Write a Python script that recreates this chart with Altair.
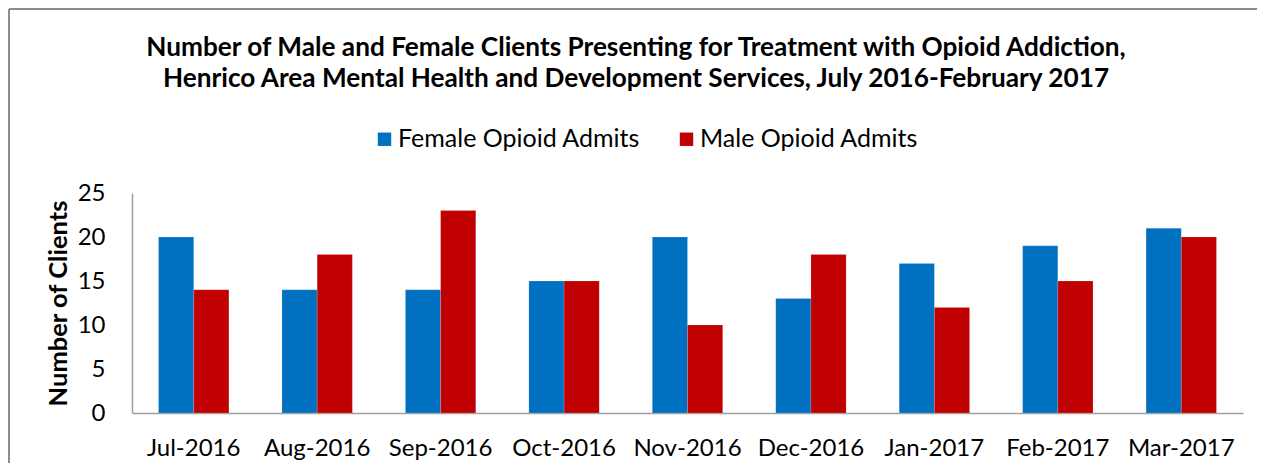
import altair as alt
import pandas as pd

months = ["Jul-2016", "Aug-2016", "Sep-2016", "Oct-2016", "Nov-2016",
          "Dec-2016", "Jan-2017", "Feb-2017", "Mar-2017"]
female = [20, 14, 14, 15, 20, 13, 17, 19, 21]
male = [14, 18, 23, 15, 10, 18, 12, 15, 20]
series = ["Female Opioid Admits", "Male Opioid Admits"]
colors = ["#0070C0", "#C00000"]

rows = []
for i, m in enumerate(months):
    rows.append({"month": m, "series": series[0], "value": female[i]})
    rows.append({"month": m, "series": series[1], "value": male[i]})
df = pd.DataFrame(rows)

FONT = "Lato"
W, H = 1111, 220

bars = alt.Chart(df).mark_bar(stroke="white", strokeOpacity=0.3, strokeWidth=0.5).encode(
    x=alt.X("month:N", sort=months, title=None,
            scale=alt.Scale(paddingInner=0.43, paddingOuter=0.215),
            axis=alt.Axis(labelAngle=0, labelFontSize=24, labelFont=FONT, labelColor="#000000",
                          labelPadding=23, ticks=False, domainColor="#A0A0A0", domainWidth=1.5)),
    xOffset=alt.XOffset("series:N", sort=series, scale=alt.Scale(paddingInner=0, paddingOuter=0)),
    y=alt.Y("value:Q", title="Number of Clients",
            scale=alt.Scale(domain=[0, 25], nice=False),
            axis=alt.Axis(values=[0, 5, 10, 15, 20, 25], grid=False, ticks=False,
                          labelFontSize=24, labelFont=FONT, labelColor="#000000", labelPadding=27,
                          titleFontSize=25.5, titleFont=FONT, titleFontWeight="bold", titleColor="#000000",
                          titlePadding=6, domainColor="#A0A0A0", domainWidth=1.5)),
    color=alt.Color("series:N", sort=series,
                    scale=alt.Scale(domain=series, range=colors),
                    legend=alt.Legend(title=None, orient="none", direction="horizontal",
                                      legendX=240, legendY=-66.5, symbolType="square", symbolSize=180,
                                      symbolStrokeWidth=0, labelFontSize=25, labelFont=FONT,
                                      labelLimit=400, labelColor="#000000", columnPadding=33,
                                      labelOffset=1)),
)

border_top = alt.Chart(df).mark_rule(color="#8C8C8C", strokeWidth=2).encode(
    x=alt.value(-123), x2=alt.value(1130), y=alt.value(-184))
border_left = alt.Chart(df).mark_rule(color="#8C8C8C", strokeWidth=2).encode(
    x=alt.value(-123), y=alt.value(-184), y2=alt.value(290))

chart = alt.layer(border_top, border_left, bars).properties(
    width=W, height=H,
    padding={"left": 124, "top": 185, "right": 14, "bottom": 50},
    autosize=alt.AutoSizeParams(type="none"),
    title=alt.TitleParams(
        ["Number of Male and Female Clients Presenting for Treatment with Opioid Addiction,",
         "Henrico Area Mental Health and Development Services, July 2016-February 2017"],
        anchor="middle", frame="group", fontSize=26.2, font=FONT, fontWeight="bold", color="#000000",
        offset=-84, dx=-51.5, lineHeight=31),
).configure_view(stroke=None)

chart.save("out.html", embed_options={"renderer": "svg", "actions": False})
